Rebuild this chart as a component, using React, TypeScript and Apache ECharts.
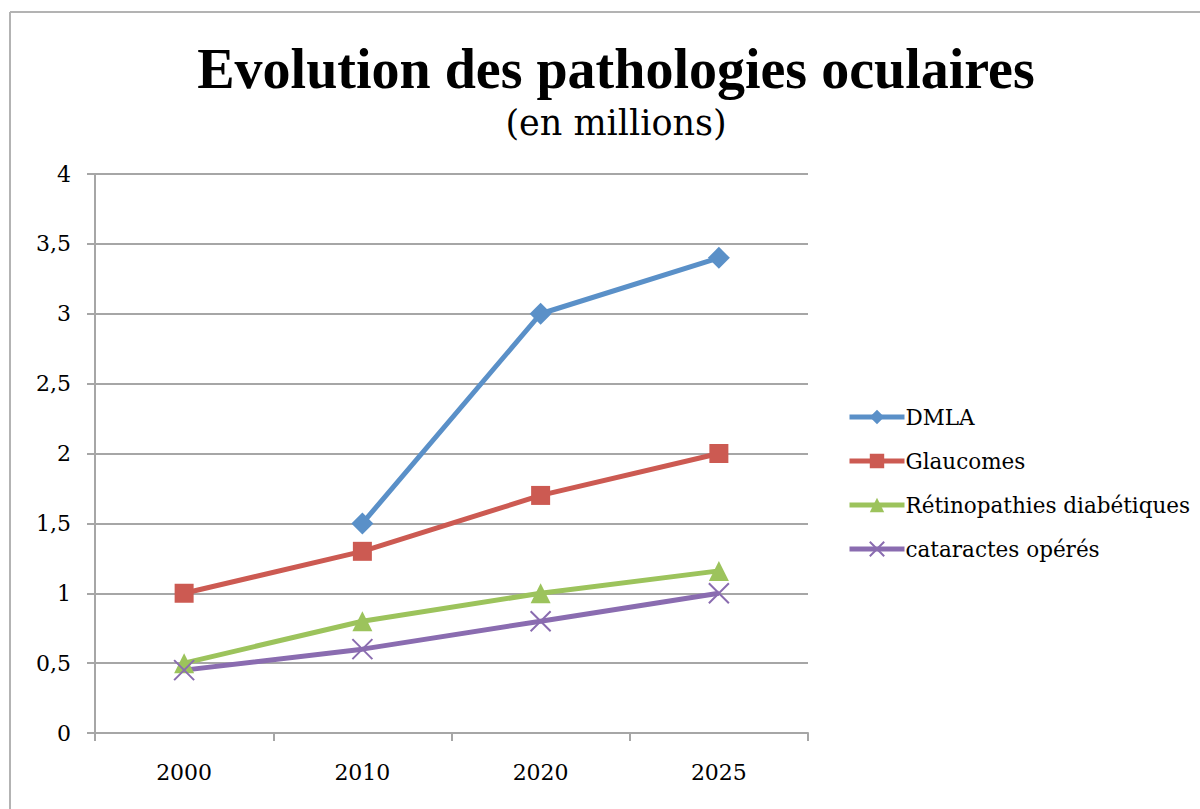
import React, { useEffect, useRef } from "react";
import * as echarts from "echarts";

const categories = ["2000", "2010", "2020", "2025"];
const dmla = [null, 1.5, 3, 3.4];
const glaucomes = [1, 1.3, 1.7, 2];
const retinopathies = [0.5, 0.8, 1, 1.16];
const cataractes = [0.45, 0.6, 0.8, 1];
const seriesNames = ["DMLA", "Glaucomes", "Rétinopathies diabétiques", "cataractes opérés"];
const yTicks = { min: 0, max: 4, interval: 0.5 };

const TFONT = "Liberation Serif";
const FONT = "DejaVu Serif";

export default function App() {
  const ref = useRef<HTMLDivElement>(null);
  useEffect(() => {
    const chart = echarts.init(ref.current!, null, { renderer: "svg" });
    const colors = ["#5A90C8", "#CC5A52", "#9CC35C", "#8A6CB0"];
    const mk = (name: string, data: any[], color: string, symbol: string, size: number, extra: any = {}) => ({
      name,
      type: "line",
      data,
      symbol,
      symbolSize: size,
      showAllSymbol: true,
      connectNulls: false,
      lineStyle: { color, width: 5 },
      itemStyle: { color, ...extra },
      emphasis: { disabled: true },
    });
    chart.setOption({
      animation: false,
      backgroundColor: "#fff",
      title: [
        {
          text: "Evolution des pathologies oculaires",
          left: 611,
          textAlign: "center",
          top: 36,
          textStyle: { fontFamily: TFONT, fontSize: 56, fontWeight: "bold", color: "#000" },
        },
        {
          text: "(en millions)",
          left: 611,
          textAlign: "center",
          top: 100,
          textStyle: { fontFamily: FONT, fontSize: 35, fontWeight: "normal", color: "#000" },
        },
      ],
      legend: {
        orient: "vertical",
        left: 842,
        top: 401,
        itemWidth: 55,
        itemHeight: 18,
        itemGap: 22,
        lineStyle: { width: 5 },
        textStyle: { fontFamily: FONT, fontSize: 21.5, color: "#000", padding: [0, 0, 0, -4] },
        data: seriesNames,
      },
      grid: { left: 95, right: 392, top: 174, bottom: 76 },
      xAxis: {
        type: "category",
        data: categories,
        boundaryGap: true,
        axisLine: { lineStyle: { color: "#A6A6A6", width: 2 } },
        axisTick: { show: true, length: 8, lineStyle: { color: "#A6A6A6", width: 2 } },
        axisLabel: { fontFamily: FONT, fontSize: 22, color: "#000", margin: 28 },
      },
      yAxis: {
        type: "value",
        min: yTicks.min,
        max: yTicks.max,
        interval: yTicks.interval,
        axisLine: { show: true, lineStyle: { color: "#A6A6A6", width: 2 } },
        axisTick: { show: true, length: 8, lineStyle: { color: "#A6A6A6", width: 2 } },
        splitLine: { lineStyle: { color: "#A6A6A6", width: 2 } },
        axisLabel: {
          fontFamily: FONT,
          fontSize: 22,
          color: "#000",
          margin: 24,
          formatter: (v: number) => String(v).replace(".", ","),
        },
      },
      series: [
        mk(seriesNames[0], dmla, colors[0], "diamond", 22),
        mk(seriesNames[1], glaucomes, colors[1], "rect", 19),
        mk(seriesNames[2], retinopathies, colors[2], "triangle", 20),
        mk(seriesNames[3], cataractes, colors[3], "path://M0,0L20,20M20,0L0,20", 20, {
          borderColor: colors[3],
          borderWidth: 2,
        }),
      ],
      graphic: [
        { type: "line", shape: { x1: 10, y1: 12, x2: 1200, y2: 12 }, style: { stroke: "#B3B3B3", lineWidth: 2 } },
        { type: "line", shape: { x1: 10, y1: 12, x2: 10, y2: 809 }, style: { stroke: "#B3B3B3", lineWidth: 2 } },
      ],
    });
    return () => chart.dispose();
  }, []);
  return <div ref={ref} style={{ position: "fixed", left: 0, top: 0, width: 1200, height: 809 }} />;
}
